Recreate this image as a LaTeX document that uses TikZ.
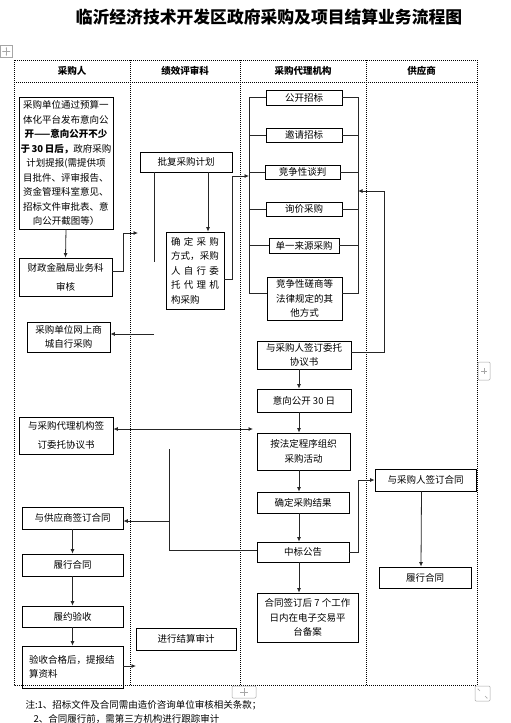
\documentclass[tikz,border=0pt]{standalone}
\usepackage{fontspec}
\newfontfamily\cjk{Noto Sans CJK SC}
\usetikzlibrary{arrows.meta}

\tikzset{
  box/.style={draw, line width=0.8pt, inner sep=0pt, align=center,
    font=\cjk\fontsize{9.5}{14.5}\selectfont},
  arr/.style={-{Latex[length=4.5pt,width=4pt]}, line width=0.8pt, black!85},
  twoarr/.style={{Latex[length=4.5pt,width=4pt]}-{Latex[length=4.5pt,width=4pt]}, line width=0.8pt, black!85},
  wire/.style={line width=0.8pt, black!85},
  grid/.style={line width=0.6pt, dash pattern=on 1pt off 1pt},
  ui/.style={black!35, line width=0.5pt},
}

\begin{document}
\begin{tikzpicture}[x=1pt,y=-1pt]
  \useasboundingbox (0,0) rectangle (511,723);
  \node[font=\cjk\bfseries\fontsize{16.8}{20}\selectfont] (title) at (269,17)
    {临沂经济技术开发区政府采购及项目结算业务流程图};

  % table with four columns
  \draw[grid] (14,60) rectangle (477,685);
  \draw[grid] (14,82) -- (477,82);
  \foreach \x in {130,240,366} \draw[grid] (\x,60) -- (\x,685);
  \foreach \x/\t/\n in {72/采购人/h1, 185/绩效评审科/h2, 303/采购代理机构/h3, 421.5/供应商/h4}
    \node[font=\cjk\bfseries\fontsize{9.5}{11}\selectfont] (\n) at (\x,71) {\t};

  % Word handles
  \draw[ui] (0.5,45.5) rectangle (12,57.5);
  \draw[ui, {Stealth[length=1.5pt]}-{Stealth[length=1.5pt]}] (2,51.5) -- (10.5,51.5);
  \draw[ui, {Stealth[length=1.5pt]}-{Stealth[length=1.5pt]}] (6.25,47) -- (6.25,56);
  \draw[ui, rounded corners=1pt] (232,686) rectangle (256,698);
  \draw[ui] (240,692) -- (248,692) (244,688) -- (244,696);
  \draw[ui, rounded corners=1pt] (478,362) rectangle (490,380);
  \draw[ui] (481,371) -- (487,371) (484,368) -- (484,374);
  \draw[ui, rounded corners=1pt] (475,686) rectangle (490,701);
  \draw[ui, -{Stealth[length=1.5pt]}] (480,691) -- (477.5,688.5);
  \draw[ui, -{Stealth[length=1.5pt]}] (485,696) -- (487.5,698.5);

  % 采购人
  \node[box, minimum width=94pt, minimum height=132pt] (plan) at (66,163)
    {采购单位通过预算一\\体化平台发布意向公\\{\bfseries 开——意向公开不少}\\{\bfseries 于\,30\,日后，}政府采购\\
     计划提报(需提供项\\目批件、评审报告、\\资金管理科室意见、\\招标文件审批表、意\\向公开截图等）};
  \node[box, minimum width=93pt, minimum height=38pt, font=\cjk\fontsize{9.5}{19}\selectfont]
    (caizheng) at (65.5,277) {财政金融局业务科\\审核};
  \node[box, minimum width=83pt, minimum height=30pt] (shangcheng) at (68.5,337)
    {采购单位网上商\\城自行采购};
  \node[box, minimum width=94pt, minimum height=37pt, font=\cjk\fontsize{9.5}{18.5}\selectfont]
    (weituo) at (66,435.5) {与采购代理机构签\\订委托协议书};
  \node[box, minimum width=101pt, minimum height=22pt] (qianyue) at (72.5,518) {与供应商签订合同};
  \node[box, minimum width=101pt, minimum height=22pt] (lvyue) at (72.5,565) {履行合同};
  \node[box, minimum width=101pt, minimum height=21pt] (yanshou) at (72.5,616.5) {履约验收};
  \node[box, minimum width=101pt, minimum height=42pt, text width=87pt, align=left]
    (tibao) at (72.5,667) {验收合格后，提报结\\算资料};

  % 绩效评审科
  \node[box, minimum width=92pt, minimum height=20pt] (pifu) at (186,162) {批复采购计划};
  \node[box, minimum width=58pt, minimum height=77pt] (fangshi) at (195,270.5)
    {\makebox[48pt][s]{确\hfil 定\hfil 采\hfil 购}\\
     \makebox[48pt][s]{方\hfil 式\hfil ，\hfil 采\hfil 购}\\
     \makebox[48pt][s]{人\hfil 自\hfil 行\hfil 委}\\
     \makebox[48pt][s]{托\hfil 代\hfil 理\hfil 机}\\
     \makebox[48pt][l]{构采购}};
  \node[box, minimum width=100pt, minimum height=22pt] (shenji) at (186,639) {进行结算审计};

  % 采购代理机构
  \node[box, minimum width=76pt, minimum height=15pt] (gongkai) at (304,97.5) {公开招标};
  \node[box, minimum width=76pt, minimum height=14pt] (yaoqing) at (304,135) {邀请招标};
  \node[box, minimum width=75pt, minimum height=14pt] (tanpan) at (302.5,172) {竞争性谈判};
  \node[box, minimum width=76pt, minimum height=14pt] (xunjia) at (304,209) {询价采购};
  \node[box, minimum width=70pt, minimum height=15pt] (danyi) at (304,245.5) {单一来源采购};
  \node[box, minimum width=75pt, minimum height=43pt] (cuoshang) at (304.5,298.5)
    {竞争性磋商等\\法律规定的其\\他方式};
  \node[box, minimum width=94pt, minimum height=28pt] (xieyi) at (304,355) {与采购人签订委托\\协议书};
  \node[box, minimum width=94pt, minimum height=23pt] (yixiang) at (304,400.5) {意向公开 30 日};
  \node[box, minimum width=93pt, minimum height=37pt] (zuzhi) at (303.5,451.5) {按法定程序组织\\采购活动};
  \node[box, minimum width=92pt, minimum height=21pt] (jieguo) at (303,502.5) {确定采购结果};
  \node[box, minimum width=92pt, minimum height=20pt] (gonggao) at (303,552) {中标公告};
  \node[box, minimum width=101pt, minimum height=49pt] (beian) at (307.5,617.5)
    {合同签订后 7 个工作\\日内在电子交易平\\台备案};

  % 供应商
  \node[box, minimum width=101pt, minimum height=22pt] (hetong) at (425.5,480) {与采购人签订合同};
  \node[box, minimum width=92pt, minimum height=21pt] (lvxing) at (425,577.5) {履行合同};

  % bracket round the six ways
  \coordinate (bl) at (249,97.5);
  \coordinate (br) at (358,97.5);
  \coordinate (vx) at (299,0);
  \draw[wire] (gongkai.west) -- (bl) -- (249,293) -- ([yshift=5.5pt]cuoshang.west);
  \draw[wire] (gongkai.east) -- (br) -- (358,293) -- ([yshift=5.5pt]cuoshang.east);
  \foreach \m in {yaoqing,tanpan,xunjia,danyi} {
    \draw[wire] (\m.west) -- (\m.west -| bl);
    \draw[wire] (\m.east) -- (\m.east -| br);
  }

  % connectors
  \draw[arr] (plan.south) -- (caizheng.north);
  \draw[arr] ([yshift=6pt]caizheng.east) -| (123,233) -- (138,233);
  \draw[arr] ([xshift=22pt]pifu.south) -- ([xshift=13pt]fangshi.north);
  \draw[wire] ([xshift=-32pt]pifu.south) -- (154,262);
  \draw[arr] ([yshift=-8.5pt]fangshi.east) -| (232,176) -- (249,176);
  \draw[arr] (154,334) -- ([yshift=3pt]shangcheng.east);
  \draw[arr] ([yshift=3pt]xieyi.east) -| (384,191) -- (358,191);
  \foreach \a/\b in {xieyi/yixiang, yixiang/zuzhi, zuzhi/jieguo, jieguo/gonggao, gonggao/beian}
    \draw[arr] (\a.south -| vx) -- (\b.north -| vx);
  \draw[twoarr] ([yshift=6.5pt]weituo.east) -- (253,429);
  \draw[wire] ([yshift=2pt]gonggao.west) -| (169,449);
  \draw[arr] (169,521) -- ([yshift=-3pt]qianyue.east);
  \draw[arr] (gonggao.east) -| (358,480) -- (hetong.west);
  \draw[arr] ([xshift=-4pt]hetong.south) -- ([xshift=-4pt]lvxing.north);
  \draw[arr] (qianyue) -- (lvyue);
  \draw[arr] (lvyue) -- (yanshou);
  \draw[arr] (yanshou) -- (tibao);
  \draw[arr] ([yshift=1pt]tibao.east) -- (136,666);

  % notes
  \node[font=\cjk\fontsize{9.5}{11}\selectfont, anchor=west] (note1) at (22,705)
    {注:1、招标文件及合同需由造价咨询单位审核相关条款；};
  \node[font=\cjk\fontsize{9.5}{11}\selectfont, anchor=west] (note2) at (30,719)
    {2、合同履行前，需第三方机构进行跟踪审计};
\end{tikzpicture}
\end{document}
